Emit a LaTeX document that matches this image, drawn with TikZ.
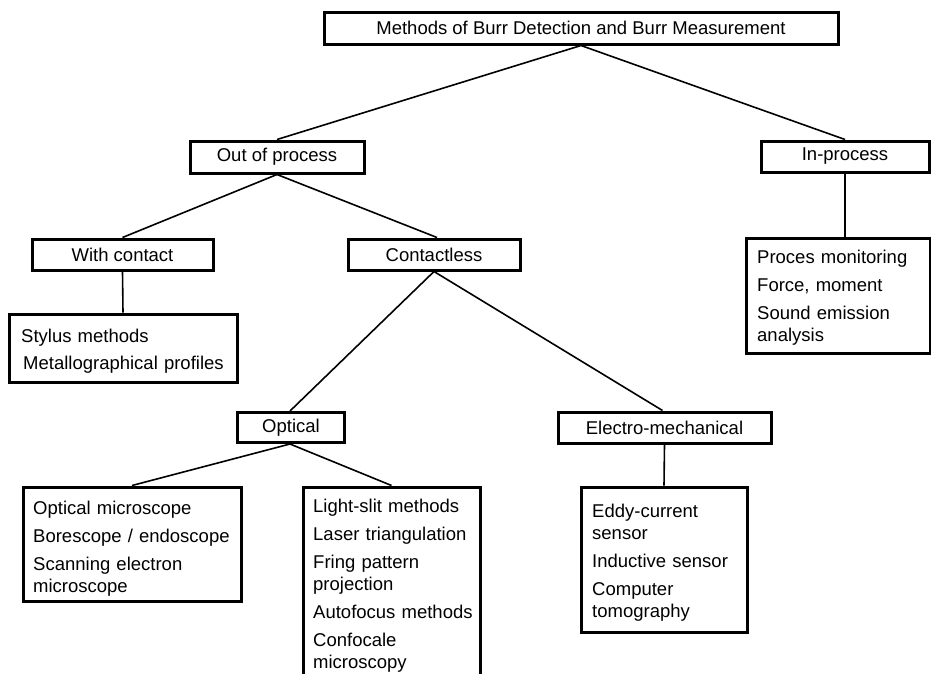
\documentclass[tikz,border=0pt]{standalone}
\usepackage{fontspec}
\setmainfont{Liberation Sans}
\begin{document}
\begin{tikzpicture}[x=1pt,y=-1pt,
  box/.style={draw, line width=3pt, inner sep=0pt, minimum height=32pt},
  txt/.style={anchor=base west, inner sep=0pt, align=left, text width=260pt},
  conn/.style={line width=1.6pt},
  every node/.style={font=\fontsize{18.5}{22}\selectfont}]
\useasboundingbox (0,0) rectangle (931,673);
% single-line boxes
\node[box, minimum width=514pt] (root) at (581,28) {Methods of Burr Detection and Burr Measurement};
\node[box, minimum width=174pt] (outp) at (277,157) {Out of process};
\node[box, minimum width=168pt, minimum height=31pt] (inp) at (845,156.5) {In-process};
\node[box, minimum width=181pt, minimum height=31pt] (withc) at (122.5,254.5) {With contact};
\node[box, minimum width=172pt, minimum height=31pt] (cless) at (434,254.5) {Contactless};
\node[box, minimum width=107pt, minimum height=30pt] (optical) at (291,427.5) {Optical};
\node[box, minimum width=213pt, minimum height=31pt] (electro) at (664.5,427.5) {Electro-mechanical};
% multi-line boxes
\node[box, minimum width=228pt, minimum height=68pt] (stylus) at (123,348) {};
\node[txt] (stylust) at (21,342) {Stylus methods\\[5pt]\hspace*{2pt}Metallographical profiles};
\node[box, minimum width=184pt, minimum height=115pt] (inproc) at (838,295.5) {};
\node[txt] (inproct) at (757,263) {Proces monitoring\\[6pt]Force, moment\\[6pt]Sound emission\\analysis};
\node[box, minimum width=218pt, minimum height=114pt] (optmic) at (132,544) {};
\node[txt] (optmict) at (33,514) {Optical microscope\\[6pt]Borescope / endoscope\\[6pt]Scanning electron\\microscope};
\node[box, minimum width=177pt, minimum height=220pt] (light) at (391.5,597) {};
\node[txt] (lightt) at (313,512) {Light-slit methods\\[6pt]Laser triangulation\\[6pt]Fring pattern\\projection\\[6pt]Autofocus methods\\[6pt]Confocale\\microscopy};
\node[box, minimum width=166pt, minimum height=145pt] (eddy) at (664,559.5) {};
\node[txt] (eddyt) at (592,517) {Eddy-current\\sensor\\[6pt]Inductive sensor\\[6pt]Computer\\tomography};
% connectors
\draw[conn] (root.south) -- (outp.north);
\draw[conn] (root.south) -- (inp.north);
\draw[conn] (outp.south) -- (withc.north);
\draw[conn] (outp.south) -- ([xshift=3pt]cless.north);
\draw[conn] (withc.south) -- (stylus.north);
\draw[conn] (cless.south) -- ([xshift=-1pt]optical.north);
\draw[conn] (cless.south) -- ([xshift=-2pt]electro.north);
\draw[conn] ([xshift=-1pt]optical.south) -- (optmic.north);
\draw[conn] ([xshift=-1pt]optical.south) -- (light.north);
\draw[conn] (electro.south) -- (eddy.north);
\draw[conn] (inp.south) -- (inp.south |- inproc.north);
\end{tikzpicture}
\end{document}
